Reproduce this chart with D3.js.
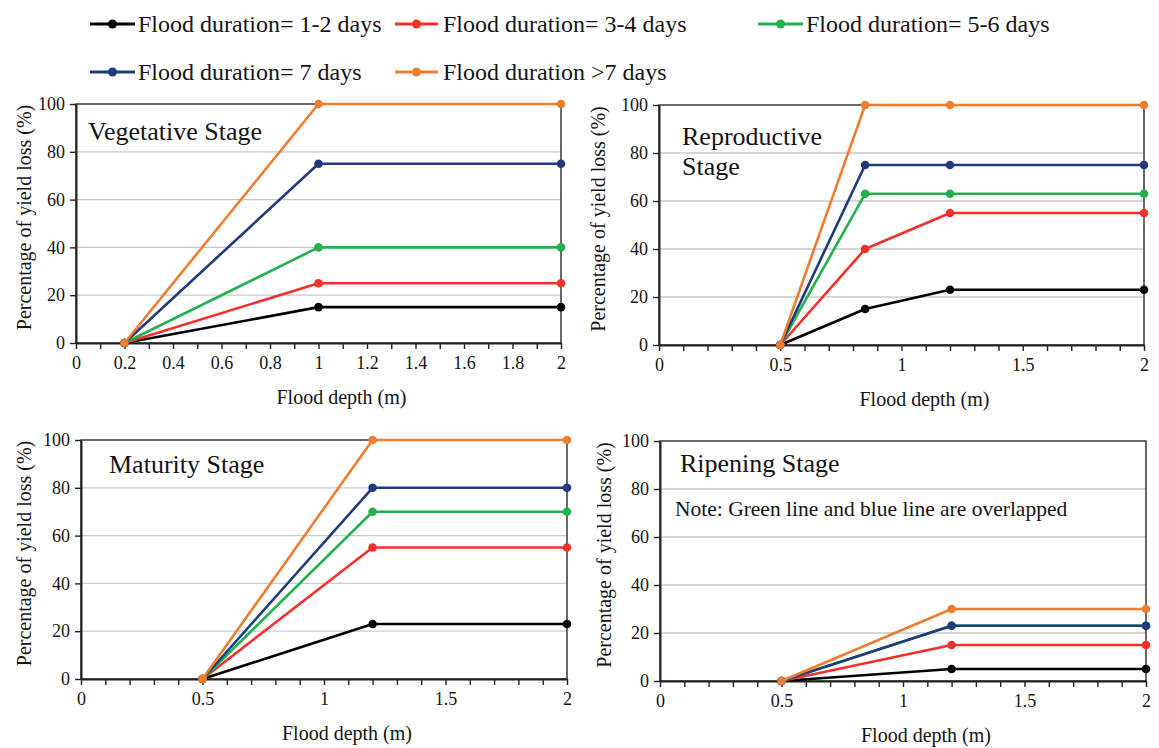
<!DOCTYPE html>
<html><head><meta charset="utf-8">
<script src="https://cdn.jsdelivr.net/npm/d3@7"></script>
<style>
body{margin:0;background:#fff}
svg{display:block}
text{font-family:"Liberation Serif","Times New Roman",serif;fill:#141414}
</style>
</head><body>
<svg id="c" width="1159" height="748"></svg>
<script>
// ---------- data ----------
const seriesNames = ["Flood duration= 1-2 days","Flood duration= 3-4 days","Flood duration= 5-6 days","Flood duration= 7 days","Flood duration >7 days"];
const seriesColors = ["#000000","#f5302a","#22b14c","#1f3a7f","#ee7d2f"];

const stageTitles = [["Vegetative Stage"],["Reproductive","Stage"],["Maturity Stage"],["Ripening Stage"]];
const ripeningNote = "Note: Green line and blue line are overlapped";

const vegDepth = [0.2, 1, 2];
const vegLoss = [[0,15,15],[0,25,25],[0,40,40],[0,75,75],[0,100,100]];

const repDepth = [0.5, 0.85, 1.2, 2];
const repLoss = [[0,15,23,23],[0,40,55,55],[0,63,63,63],[0,75,75,75],[0,100,100,100]];

const matDepth = [0.5, 1.2, 2];
const matLoss = [[0,23,23],[0,55,55],[0,70,70],[0,80,80],[0,100,100]];

const ripDepth = [0.5, 1.2, 2];
const ripLoss = [[0,5,5],[0,15,15],[0,23,23],[0,23,23],[0,30,30]];

const vegXLabels = [0,0.2,0.4,0.6,0.8,1,1.2,1.4,1.6,1.8,2];
const halfXLabels = [0,0.5,1,1.5,2];
const yTickLabels = [0,20,40,60,80,100];
const xTitle = "Flood depth (m)";
const yTitle = "Percentage of yield loss (%)";

// ---------- layout ----------
const panels = [
  {depth: vegDepth, loss: vegLoss, labels: vegXLabels, l:76,  r:561,  t:104, b:343, title: stageTitles[0], tdx:12, tdy:36},
  {depth: repDepth, loss: repLoss, labels: halfXLabels, l:659, r:1144, t:105, b:345, title: stageTitles[1], tdx:23, tdy:40},
  {depth: matDepth, loss: matLoss, labels: halfXLabels, l:81,  r:567,  t:440, b:679, title: stageTitles[2], tdx:28, tdy:33},
  {depth: ripDepth, loss: ripLoss, labels: halfXLabels, l:660, r:1146, t:441, b:681, title: stageTitles[3], tdx:20, tdy:31, note: ripeningNote}
];
const yTitleX = [24, 598, 24, 604];

const svg = d3.select("#c");
const minorTicks = d3.range(0, 2.0001, 0.1).map(v => Math.round(v*10)/10);

panels.forEach((p, pi) => {
  const x = d3.scaleLinear().domain([0,2]).range([p.l, p.r]);
  const y = d3.scaleLinear().domain([0,100]).range([p.b, p.t]);
  const g = svg.append("g");

  // grid
  g.selectAll("line.grid").data(yTickLabels.filter(v => v>0 && v<100)).join("line")
    .attr("x1", p.l).attr("x2", p.r).attr("y1", d=>y(d)).attr("y2", d=>y(d))
    .attr("stroke", pi===2 ? "#c3d0dc" : "#c8c8c8").attr("stroke-width", 1.3);

  // frame
  g.append("rect").attr("x", p.l).attr("y", p.t).attr("width", p.r-p.l).attr("height", p.b-p.t)
    .attr("fill","none").attr("stroke","#2a2a2a").attr("stroke-width",1.4);

  // x axis
  const xa = d3.axisBottom(x).tickValues(minorTicks).tickSize(6).tickSizeOuter(0).tickPadding(7)
    .tickFormat(d => p.labels.some(m => Math.abs(m-d)<1e-6) ? String(d) : "");
  const gx = g.append("g").attr("transform",`translate(0,${p.b})`).call(xa);
  gx.selectAll("text").attr("font-size",18).attr("font-family",'"Liberation Serif",serif').attr("fill","#141414");
  gx.selectAll("line").attr("stroke","#222").attr("stroke-width",1.4);
  gx.select(".domain").attr("stroke","#222").attr("stroke-width",2);

  // y axis
  const ya = d3.axisLeft(y).tickValues(yTickLabels).tickSize(6).tickSizeOuter(0).tickPadding(5);
  const gy = g.append("g").attr("transform",`translate(${p.l},0)`).call(ya);
  gy.selectAll("text").attr("font-size",18).attr("font-family",'"Liberation Serif",serif').attr("fill","#141414");
  gy.selectAll("line").attr("stroke","#222").attr("stroke-width",1.4);
  gy.select(".domain").attr("stroke","#222").attr("stroke-width",2);

  // axis titles
  g.append("text").attr("x", (p.l+p.r)/2 + 23).attr("y", p.b + 61)
    .attr("text-anchor","middle").attr("font-size",20).text(xTitle);
  g.append("text").attr("transform",`translate(${yTitleX[pi]},${(p.t+p.b)/2 - 6}) rotate(-90)`)
    .attr("text-anchor","middle").attr("dominant-baseline","central").attr("font-size",20).text(yTitle);

  // stage title
  p.title.forEach((line, li) => {
    g.append("text").attr("x", p.l + p.tdx).attr("y", p.t + p.tdy + li*30)
      .attr("font-size",26).text(line);
  });
  if (p.note) {
    g.append("text").attr("x", p.l + 15).attr("y", p.t + 75).attr("font-size",21.5).text(p.note);
  }

  // series
  const line = d3.line().x(d=>x(d[0])).y(d=>y(d[1]));
  p.loss.forEach((vals, si) => {
    const pts = p.depth.map((d,i) => [d, vals[i]]);
    g.append("path").datum(pts).attr("d", line).attr("fill","none")
      .attr("stroke", seriesColors[si]).attr("stroke-width", 2.6).attr("stroke-linejoin","round");
    g.selectAll(null).data(pts).join("circle")
      .attr("cx", d=>x(d[0])).attr("cy", d=>y(d[1])).attr("r", 4.3).attr("fill", seriesColors[si]);
  });
});

// ---------- legend ----------
const legendPos = [
  {x1:90, x2:135, y:24, tx:138},
  {x1:395, x2:438, y:24, tx:443},
  {x1:758, x2:803, y:24, tx:806},
  {x1:90, x2:135, y:72, tx:138},
  {x1:395, x2:438, y:72, tx:443}
];
const lg = svg.append("g");
seriesNames.forEach((name, i) => {
  const lp = legendPos[i];
  lg.append("line").attr("x1", lp.x1).attr("x2", lp.x2).attr("y1", lp.y).attr("y2", lp.y)
    .attr("stroke", seriesColors[i]).attr("stroke-width", 3);
  lg.append("circle").attr("cx", (lp.x1+lp.x2)/2).attr("cy", lp.y).attr("r", 4.5).attr("fill", seriesColors[i]);
  lg.append("text").attr("x", lp.tx).attr("y", lp.y + 8).attr("font-size", 24).text(name);
});
</script>
</body></html>
